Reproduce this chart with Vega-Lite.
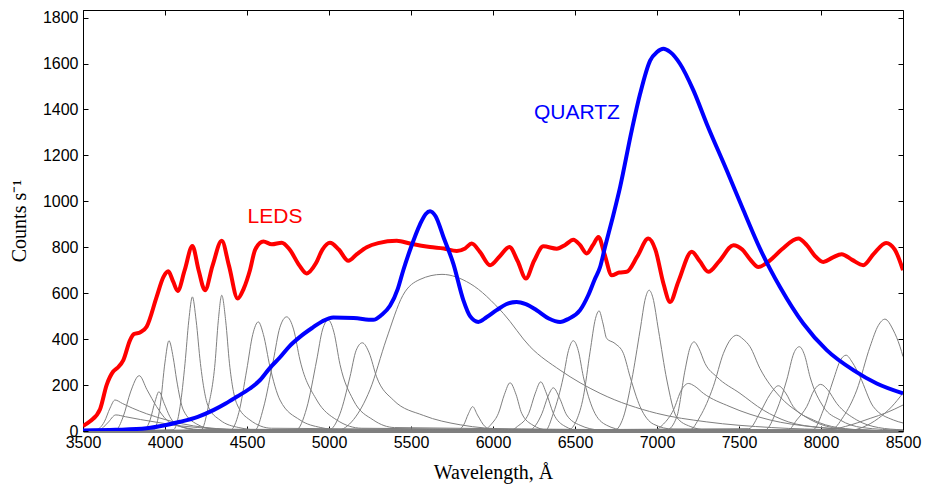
{
  "$schema": "https://vega.github.io/schema/vega-lite/v6.json",
  "width": 820,
  "height": 421,
  "autosize": {"type": "none"},
  "padding": {"left": 83, "top": 10, "right": 23, "bottom": 56},
  "background": "white",
  "config": {
    "view": {"stroke": "black", "strokeWidth": 1},
    "axis": {"grid": false, "labelFlush": false, "labelFont": "Liberation Sans", "labelFontSize": 16, "labelColor": "black", "titleFont": "Liberation Serif", "titleFontSize": 20, "titleFontWeight": "normal", "titleColor": "black", "domainColor": "black", "tickColor": "black", "tickSize": -5}
  },
  "datasets": {
    "leds": [
      {"led": 1, "wl": 3500, "c": 0}, {"led": 1, "wl": 3580, "c": 5}, {"led": 1, "wl": 3630, "c": 40}, {"led": 1, "wl": 3665, "c": 100}, {"led": 1, "wl": 3695, "c": 135}, {"led": 1, "wl": 3740, "c": 120}, {"led": 1, "wl": 3800, "c": 100}, {"led": 1, "wl": 3888, "c": 75}, {"led": 1, "wl": 4000, "c": 50}, {"led": 1, "wl": 4100, "c": 32}, {"led": 1, "wl": 4250, "c": 15}, {"led": 1, "wl": 4500, "c": 5}, {"led": 1, "wl": 8500, "c": 0},
      {"led": 2, "wl": 3500, "c": 0}, {"led": 2, "wl": 3600, "c": 5}, {"led": 2, "wl": 3650, "c": 35}, {"led": 2, "wl": 3700, "c": 70}, {"led": 2, "wl": 3760, "c": 62}, {"led": 2, "wl": 3850, "c": 50}, {"led": 2, "wl": 3950, "c": 38}, {"led": 2, "wl": 4100, "c": 22}, {"led": 2, "wl": 4300, "c": 10}, {"led": 2, "wl": 4600, "c": 3}, {"led": 2, "wl": 8500, "c": 0},
      {"led": 3, "wl": 3500, "c": 0}, {"led": 3, "wl": 3700, "c": 5}, {"led": 3, "wl": 3745, "c": 62}, {"led": 3, "wl": 3790, "c": 170}, {"led": 3, "wl": 3843, "c": 241}, {"led": 3, "wl": 3890, "c": 180}, {"led": 3, "wl": 3949, "c": 106}, {"led": 3, "wl": 4010, "c": 48}, {"led": 3, "wl": 4100, "c": 18}, {"led": 3, "wl": 4250, "c": 5}, {"led": 3, "wl": 8500, "c": 0},
      {"led": 4, "wl": 3500, "c": 0}, {"led": 4, "wl": 3870, "c": 3}, {"led": 4, "wl": 3909, "c": 48}, {"led": 4, "wl": 3940, "c": 130}, {"led": 4, "wl": 3963, "c": 171}, {"led": 4, "wl": 3995, "c": 120}, {"led": 4, "wl": 4030, "c": 62}, {"led": 4, "wl": 4092, "c": 20}, {"led": 4, "wl": 4200, "c": 5}, {"led": 4, "wl": 8500, "c": 0},
      {"led": 5, "wl": 3500, "c": 0}, {"led": 5, "wl": 3930, "c": 5}, {"led": 5, "wl": 3970, "c": 106}, {"led": 5, "wl": 4000, "c": 300}, {"led": 5, "wl": 4024, "c": 393}, {"led": 5, "wl": 4050, "c": 320}, {"led": 5, "wl": 4071, "c": 222}, {"led": 5, "wl": 4112, "c": 91}, {"led": 5, "wl": 4194, "c": 30}, {"led": 5, "wl": 4300, "c": 8}, {"led": 5, "wl": 8500, "c": 0},
      {"led": 6, "wl": 3500, "c": 0}, {"led": 6, "wl": 4050, "c": 5}, {"led": 6, "wl": 4092, "c": 106}, {"led": 6, "wl": 4122, "c": 294}, {"led": 6, "wl": 4145, "c": 480}, {"led": 6, "wl": 4167, "c": 584}, {"led": 6, "wl": 4190, "c": 480}, {"led": 6, "wl": 4216, "c": 294}, {"led": 6, "wl": 4264, "c": 106}, {"led": 6, "wl": 4335, "c": 48}, {"led": 6, "wl": 4450, "c": 15}, {"led": 6, "wl": 4600, "c": 3}, {"led": 6, "wl": 8500, "c": 0},
      {"led": 7, "wl": 3500, "c": 0}, {"led": 7, "wl": 4220, "c": 5}, {"led": 7, "wl": 4264, "c": 106}, {"led": 7, "wl": 4305, "c": 295}, {"led": 7, "wl": 4325, "c": 480}, {"led": 7, "wl": 4346, "c": 591}, {"led": 7, "wl": 4370, "c": 480}, {"led": 7, "wl": 4393, "c": 295}, {"led": 7, "wl": 4437, "c": 120}, {"led": 7, "wl": 4518, "c": 48}, {"led": 7, "wl": 4650, "c": 12}, {"led": 7, "wl": 8500, "c": 0},
      {"led": 8, "wl": 3500, "c": 0}, {"led": 8, "wl": 4400, "c": 5}, {"led": 8, "wl": 4450, "c": 80}, {"led": 8, "wl": 4498, "c": 265}, {"led": 8, "wl": 4535, "c": 420}, {"led": 8, "wl": 4569, "c": 475}, {"led": 8, "wl": 4600, "c": 420}, {"led": 8, "wl": 4640, "c": 280}, {"led": 8, "wl": 4701, "c": 135}, {"led": 8, "wl": 4823, "c": 48}, {"led": 8, "wl": 4950, "c": 15}, {"led": 8, "wl": 5100, "c": 3}, {"led": 8, "wl": 8500, "c": 0},
      {"led": 9, "wl": 3500, "c": 0}, {"led": 9, "wl": 4550, "c": 5}, {"led": 9, "wl": 4600, "c": 100}, {"led": 9, "wl": 4661, "c": 309}, {"led": 9, "wl": 4700, "c": 450}, {"led": 9, "wl": 4742, "c": 497}, {"led": 9, "wl": 4785, "c": 440}, {"led": 9, "wl": 4823, "c": 309}, {"led": 9, "wl": 4925, "c": 135}, {"led": 9, "wl": 5047, "c": 48}, {"led": 9, "wl": 5200, "c": 12}, {"led": 9, "wl": 8500, "c": 0},
      {"led": 10, "wl": 3500, "c": 0}, {"led": 10, "wl": 4800, "c": 5}, {"led": 10, "wl": 4864, "c": 100}, {"led": 10, "wl": 4925, "c": 309}, {"led": 10, "wl": 4960, "c": 440}, {"led": 10, "wl": 4996, "c": 483}, {"led": 10, "wl": 5030, "c": 430}, {"led": 10, "wl": 5067, "c": 290}, {"led": 10, "wl": 5148, "c": 135}, {"led": 10, "wl": 5270, "c": 48}, {"led": 10, "wl": 5400, "c": 15}, {"led": 10, "wl": 8500, "c": 0},
      {"led": 11, "wl": 3500, "c": 0}, {"led": 11, "wl": 5000, "c": 5}, {"led": 11, "wl": 5067, "c": 75}, {"led": 11, "wl": 5128, "c": 236}, {"led": 11, "wl": 5165, "c": 350}, {"led": 11, "wl": 5203, "c": 384}, {"led": 11, "wl": 5245, "c": 340}, {"led": 11, "wl": 5290, "c": 236}, {"led": 11, "wl": 5392, "c": 135}, {"led": 11, "wl": 5575, "c": 68}, {"led": 11, "wl": 5800, "c": 27}, {"led": 11, "wl": 6100, "c": 8}, {"led": 11, "wl": 8500, "c": 0},
      {"led": 12, "wl": 3500, "c": 0}, {"led": 12, "wl": 5050, "c": 3}, {"led": 12, "wl": 5150, "c": 50}, {"led": 12, "wl": 5250, "c": 180}, {"led": 12, "wl": 5350, "c": 400}, {"led": 12, "wl": 5450, "c": 590}, {"led": 12, "wl": 5555, "c": 660}, {"led": 12, "wl": 5689, "c": 682}, {"led": 12, "wl": 5860, "c": 642}, {"led": 12, "wl": 6063, "c": 512}, {"led": 12, "wl": 6226, "c": 367}, {"led": 12, "wl": 6409, "c": 265}, {"led": 12, "wl": 6653, "c": 164}, {"led": 12, "wl": 6998, "c": 77}, {"led": 12, "wl": 7300, "c": 40}, {"led": 12, "wl": 7700, "c": 15}, {"led": 12, "wl": 8100, "c": 5}, {"led": 12, "wl": 8500, "c": 0},
      {"led": 13, "wl": 3500, "c": 0}, {"led": 13, "wl": 5780, "c": 3}, {"led": 13, "wl": 5820, "c": 25}, {"led": 13, "wl": 5850, "c": 75}, {"led": 13, "wl": 5876, "c": 106}, {"led": 13, "wl": 5905, "c": 70}, {"led": 13, "wl": 5950, "c": 20}, {"led": 13, "wl": 6000, "c": 3}, {"led": 13, "wl": 8500, "c": 0},
      {"led": 14, "wl": 3500, "c": 0}, {"led": 14, "wl": 5940, "c": 3}, {"led": 14, "wl": 5990, "c": 30}, {"led": 14, "wl": 6033, "c": 77}, {"led": 14, "wl": 6070, "c": 160}, {"led": 14, "wl": 6104, "c": 210}, {"led": 14, "wl": 6140, "c": 160}, {"led": 14, "wl": 6175, "c": 77}, {"led": 14, "wl": 6244, "c": 25}, {"led": 14, "wl": 6330, "c": 5}, {"led": 14, "wl": 8500, "c": 0},
      {"led": 15, "wl": 3500, "c": 0}, {"led": 15, "wl": 6110, "c": 3}, {"led": 15, "wl": 6149, "c": 20}, {"led": 15, "wl": 6218, "c": 77}, {"led": 15, "wl": 6258, "c": 165}, {"led": 15, "wl": 6291, "c": 214}, {"led": 15, "wl": 6325, "c": 165}, {"led": 15, "wl": 6368, "c": 77}, {"led": 15, "wl": 6440, "c": 20}, {"led": 15, "wl": 6520, "c": 3}, {"led": 15, "wl": 8500, "c": 0},
      {"led": 16, "wl": 3500, "c": 0}, {"led": 16, "wl": 6220, "c": 3}, {"led": 16, "wl": 6260, "c": 25}, {"led": 16, "wl": 6299, "c": 77}, {"led": 16, "wl": 6335, "c": 150}, {"led": 16, "wl": 6368, "c": 188}, {"led": 16, "wl": 6405, "c": 145}, {"led": 16, "wl": 6449, "c": 70}, {"led": 16, "wl": 6531, "c": 25}, {"led": 16, "wl": 6650, "c": 5}, {"led": 16, "wl": 8500, "c": 0},
      {"led": 17, "wl": 3500, "c": 0}, {"led": 17, "wl": 6320, "c": 3}, {"led": 17, "wl": 6368, "c": 77}, {"led": 17, "wl": 6429, "c": 236}, {"led": 17, "wl": 6460, "c": 350}, {"led": 17, "wl": 6490, "c": 393}, {"led": 17, "wl": 6520, "c": 350}, {"led": 17, "wl": 6551, "c": 236}, {"led": 17, "wl": 6612, "c": 91}, {"led": 17, "wl": 6693, "c": 25}, {"led": 17, "wl": 6800, "c": 5}, {"led": 17, "wl": 8500, "c": 0},
      {"led": 18, "wl": 3500, "c": 0}, {"led": 18, "wl": 6460, "c": 5}, {"led": 18, "wl": 6510, "c": 48}, {"led": 18, "wl": 6551, "c": 149}, {"led": 18, "wl": 6592, "c": 345}, {"led": 18, "wl": 6625, "c": 490}, {"led": 18, "wl": 6647, "c": 523}, {"led": 18, "wl": 6670, "c": 470}, {"led": 18, "wl": 6693, "c": 403}, {"led": 18, "wl": 6744, "c": 381}, {"led": 18, "wl": 6795, "c": 338}, {"led": 18, "wl": 6836, "c": 236}, {"led": 18, "wl": 6897, "c": 106}, {"led": 18, "wl": 6978, "c": 30}, {"led": 18, "wl": 7100, "c": 8}, {"led": 18, "wl": 8500, "c": 0},
      {"led": 19, "wl": 3500, "c": 0}, {"led": 19, "wl": 6740, "c": 3}, {"led": 19, "wl": 6795, "c": 60}, {"led": 19, "wl": 6846, "c": 222}, {"led": 19, "wl": 6897, "c": 439}, {"led": 19, "wl": 6930, "c": 580}, {"led": 19, "wl": 6952, "c": 613}, {"led": 19, "wl": 6975, "c": 580}, {"led": 19, "wl": 7009, "c": 439}, {"led": 19, "wl": 7060, "c": 222}, {"led": 19, "wl": 7120, "c": 60}, {"led": 19, "wl": 7202, "c": 20}, {"led": 19, "wl": 7300, "c": 5}, {"led": 19, "wl": 8500, "c": 0},
      {"led": 20, "wl": 3500, "c": 0}, {"led": 20, "wl": 6980, "c": 3}, {"led": 20, "wl": 7039, "c": 30}, {"led": 20, "wl": 7100, "c": 91}, {"led": 20, "wl": 7150, "c": 180}, {"led": 20, "wl": 7191, "c": 207}, {"led": 20, "wl": 7230, "c": 195}, {"led": 20, "wl": 7283, "c": 164}, {"led": 20, "wl": 7445, "c": 106}, {"led": 20, "wl": 7689, "c": 48}, {"led": 20, "wl": 7950, "c": 18}, {"led": 20, "wl": 8200, "c": 5}, {"led": 20, "wl": 8500, "c": 0},
      {"led": 21, "wl": 3500, "c": 0}, {"led": 21, "wl": 7060, "c": 5}, {"led": 21, "wl": 7120, "c": 60}, {"led": 21, "wl": 7171, "c": 265}, {"led": 21, "wl": 7200, "c": 360}, {"led": 21, "wl": 7226, "c": 388}, {"led": 21, "wl": 7255, "c": 360}, {"led": 21, "wl": 7293, "c": 294}, {"led": 21, "wl": 7364, "c": 236}, {"led": 21, "wl": 7506, "c": 164}, {"led": 21, "wl": 7648, "c": 91}, {"led": 21, "wl": 7800, "c": 40}, {"led": 21, "wl": 8000, "c": 15}, {"led": 21, "wl": 8300, "c": 3}, {"led": 21, "wl": 8500, "c": 0},
      {"led": 22, "wl": 3500, "c": 0}, {"led": 22, "wl": 7200, "c": 5}, {"led": 22, "wl": 7262, "c": 62}, {"led": 22, "wl": 7343, "c": 193}, {"led": 22, "wl": 7405, "c": 338}, {"led": 22, "wl": 7450, "c": 400}, {"led": 22, "wl": 7486, "c": 417}, {"led": 22, "wl": 7525, "c": 400}, {"led": 22, "wl": 7567, "c": 367}, {"led": 22, "wl": 7628, "c": 272}, {"led": 22, "wl": 7750, "c": 149}, {"led": 22, "wl": 7872, "c": 77}, {"led": 22, "wl": 7994, "c": 30}, {"led": 22, "wl": 8150, "c": 8}, {"led": 22, "wl": 8500, "c": 0},
      {"led": 23, "wl": 3500, "c": 0}, {"led": 23, "wl": 7560, "c": 10}, {"led": 23, "wl": 7628, "c": 80}, {"led": 23, "wl": 7690, "c": 160}, {"led": 23, "wl": 7740, "c": 197}, {"led": 23, "wl": 7785, "c": 165}, {"led": 23, "wl": 7831, "c": 106}, {"led": 23, "wl": 7953, "c": 48}, {"led": 23, "wl": 8100, "c": 15}, {"led": 23, "wl": 8300, "c": 3}, {"led": 23, "wl": 8500, "c": 0},
      {"led": 24, "wl": 3500, "c": 0}, {"led": 24, "wl": 7660, "c": 5}, {"led": 24, "wl": 7730, "c": 91}, {"led": 24, "wl": 7791, "c": 222}, {"led": 24, "wl": 7835, "c": 340}, {"led": 24, "wl": 7868, "c": 367}, {"led": 24, "wl": 7900, "c": 330}, {"led": 24, "wl": 7933, "c": 236}, {"led": 24, "wl": 8014, "c": 106}, {"led": 24, "wl": 8116, "c": 48}, {"led": 24, "wl": 8250, "c": 15}, {"led": 24, "wl": 8500, "c": 3},
      {"led": 25, "wl": 3500, "c": 0}, {"led": 25, "wl": 7800, "c": 5}, {"led": 25, "wl": 7852, "c": 48}, {"led": 25, "wl": 7913, "c": 106}, {"led": 25, "wl": 7960, "c": 180}, {"led": 25, "wl": 7998, "c": 203}, {"led": 25, "wl": 8040, "c": 180}, {"led": 25, "wl": 8096, "c": 120}, {"led": 25, "wl": 8218, "c": 48}, {"led": 25, "wl": 8350, "c": 15}, {"led": 25, "wl": 8500, "c": 5},
      {"led": 26, "wl": 3500, "c": 0}, {"led": 26, "wl": 7950, "c": 5}, {"led": 26, "wl": 8014, "c": 91}, {"led": 26, "wl": 8075, "c": 222}, {"led": 26, "wl": 8120, "c": 310}, {"led": 26, "wl": 8153, "c": 330}, {"led": 26, "wl": 8190, "c": 300}, {"led": 26, "wl": 8238, "c": 236}, {"led": 26, "wl": 8319, "c": 106}, {"led": 26, "wl": 8441, "c": 48}, {"led": 26, "wl": 8500, "c": 35},
      {"led": 27, "wl": 3500, "c": 0}, {"led": 27, "wl": 8060, "c": 5}, {"led": 27, "wl": 8136, "c": 62}, {"led": 27, "wl": 8218, "c": 178}, {"led": 27, "wl": 8299, "c": 367}, {"led": 27, "wl": 8350, "c": 460}, {"led": 27, "wl": 8390, "c": 487}, {"led": 27, "wl": 8440, "c": 440}, {"led": 27, "wl": 8482, "c": 367}, {"led": 27, "wl": 8500, "c": 324},
      {"led": 28, "wl": 3500, "c": 0}, {"led": 28, "wl": 8150, "c": 0}, {"led": 28, "wl": 8250, "c": 15}, {"led": 28, "wl": 8350, "c": 55}, {"led": 28, "wl": 8430, "c": 105}, {"led": 28, "wl": 8500, "c": 165},
      {"led": 29, "wl": 3500, "c": 0}, {"led": 29, "wl": 8000, "c": 0}, {"led": 29, "wl": 8150, "c": 20}, {"led": 29, "wl": 8300, "c": 55}, {"led": 29, "wl": 8400, "c": 80}, {"led": 29, "wl": 8500, "c": 113}
    ],
    "totals": [
      {"s": "LEDS", "wl": 3500, "c": 22}, {"s": "LEDS", "wl": 3543, "c": 42}, {"s": "LEDS", "wl": 3604, "c": 95}, {"s": "LEDS", "wl": 3644, "c": 200}, {"s": "LEDS", "wl": 3683, "c": 258}, {"s": "LEDS", "wl": 3710, "c": 275}, {"s": "LEDS", "wl": 3746, "c": 309}, {"s": "LEDS", "wl": 3787, "c": 396}, {"s": "LEDS", "wl": 3811, "c": 422}, {"s": "LEDS", "wl": 3850, "c": 430}, {"s": "LEDS", "wl": 3888, "c": 454}, {"s": "LEDS", "wl": 3949, "c": 584}, {"s": "LEDS", "wl": 3990, "c": 670}, {"s": "LEDS", "wl": 4020, "c": 695}, {"s": "LEDS", "wl": 4050, "c": 650}, {"s": "LEDS", "wl": 4077, "c": 610}, {"s": "LEDS", "wl": 4120, "c": 700}, {"s": "LEDS", "wl": 4167, "c": 806}, {"s": "LEDS", "wl": 4205, "c": 700}, {"s": "LEDS", "wl": 4244, "c": 613}, {"s": "LEDS", "wl": 4290, "c": 720}, {"s": "LEDS", "wl": 4346, "c": 828}, {"s": "LEDS", "wl": 4390, "c": 720}, {"s": "LEDS", "wl": 4443, "c": 577}, {"s": "LEDS", "wl": 4480, "c": 620}, {"s": "LEDS", "wl": 4518, "c": 700}, {"s": "LEDS", "wl": 4550, "c": 790}, {"s": "LEDS", "wl": 4600, "c": 825}, {"s": "LEDS", "wl": 4651, "c": 813}, {"s": "LEDS", "wl": 4712, "c": 820}, {"s": "LEDS", "wl": 4760, "c": 790}, {"s": "LEDS", "wl": 4820, "c": 720}, {"s": "LEDS", "wl": 4864, "c": 686}, {"s": "LEDS", "wl": 4920, "c": 730}, {"s": "LEDS", "wl": 4960, "c": 790}, {"s": "LEDS", "wl": 5006, "c": 820}, {"s": "LEDS", "wl": 5060, "c": 790}, {"s": "LEDS", "wl": 5118, "c": 741}, {"s": "LEDS", "wl": 5170, "c": 770}, {"s": "LEDS", "wl": 5230, "c": 800}, {"s": "LEDS", "wl": 5300, "c": 818}, {"s": "LEDS", "wl": 5413, "c": 828}, {"s": "LEDS", "wl": 5500, "c": 815}, {"s": "LEDS", "wl": 5555, "c": 808}, {"s": "LEDS", "wl": 5616, "c": 801}, {"s": "LEDS", "wl": 5700, "c": 795}, {"s": "LEDS", "wl": 5779, "c": 784}, {"s": "LEDS", "wl": 5830, "c": 795}, {"s": "LEDS", "wl": 5870, "c": 816}, {"s": "LEDS", "wl": 5920, "c": 780}, {"s": "LEDS", "wl": 5982, "c": 722}, {"s": "LEDS", "wl": 6040, "c": 760}, {"s": "LEDS", "wl": 6100, "c": 801}, {"s": "LEDS", "wl": 6150, "c": 740}, {"s": "LEDS", "wl": 6201, "c": 664}, {"s": "LEDS", "wl": 6250, "c": 740}, {"s": "LEDS", "wl": 6307, "c": 804}, {"s": "LEDS", "wl": 6389, "c": 794}, {"s": "LEDS", "wl": 6440, "c": 810}, {"s": "LEDS", "wl": 6490, "c": 833}, {"s": "LEDS", "wl": 6530, "c": 810}, {"s": "LEDS", "wl": 6571, "c": 773}, {"s": "LEDS", "wl": 6610, "c": 810}, {"s": "LEDS", "wl": 6643, "c": 845}, {"s": "LEDS", "wl": 6680, "c": 770}, {"s": "LEDS", "wl": 6724, "c": 678}, {"s": "LEDS", "wl": 6770, "c": 690}, {"s": "LEDS", "wl": 6815, "c": 693}, {"s": "LEDS", "wl": 6880, "c": 760}, {"s": "LEDS", "wl": 6947, "c": 838}, {"s": "LEDS", "wl": 6990, "c": 790}, {"s": "LEDS", "wl": 7040, "c": 640}, {"s": "LEDS", "wl": 7080, "c": 562}, {"s": "LEDS", "wl": 7130, "c": 650}, {"s": "LEDS", "wl": 7212, "c": 780}, {"s": "LEDS", "wl": 7260, "c": 740}, {"s": "LEDS", "wl": 7313, "c": 693}, {"s": "LEDS", "wl": 7380, "c": 740}, {"s": "LEDS", "wl": 7466, "c": 809}, {"s": "LEDS", "wl": 7520, "c": 790}, {"s": "LEDS", "wl": 7570, "c": 745}, {"s": "LEDS", "wl": 7618, "c": 714}, {"s": "LEDS", "wl": 7689, "c": 743}, {"s": "LEDS", "wl": 7760, "c": 790}, {"s": "LEDS", "wl": 7862, "c": 838}, {"s": "LEDS", "wl": 7913, "c": 809}, {"s": "LEDS", "wl": 7960, "c": 765}, {"s": "LEDS", "wl": 8014, "c": 736}, {"s": "LEDS", "wl": 8070, "c": 755}, {"s": "LEDS", "wl": 8126, "c": 770}, {"s": "LEDS", "wl": 8190, "c": 745}, {"s": "LEDS", "wl": 8258, "c": 722}, {"s": "LEDS", "wl": 8320, "c": 770}, {"s": "LEDS", "wl": 8397, "c": 819}, {"s": "LEDS", "wl": 8450, "c": 790}, {"s": "LEDS", "wl": 8500, "c": 700},
      {"s": "QUARTZ", "wl": 3500, "c": 2}, {"s": "QUARTZ", "wl": 3700, "c": 5}, {"s": "QUARTZ", "wl": 3888, "c": 12}, {"s": "QUARTZ", "wl": 4000, "c": 25}, {"s": "QUARTZ", "wl": 4092, "c": 40}, {"s": "QUARTZ", "wl": 4200, "c": 62}, {"s": "QUARTZ", "wl": 4295, "c": 91}, {"s": "QUARTZ", "wl": 4370, "c": 120}, {"s": "QUARTZ", "wl": 4437, "c": 149}, {"s": "QUARTZ", "wl": 4518, "c": 185}, {"s": "QUARTZ", "wl": 4580, "c": 222}, {"s": "QUARTZ", "wl": 4640, "c": 275}, {"s": "QUARTZ", "wl": 4700, "c": 320}, {"s": "QUARTZ", "wl": 4760, "c": 370}, {"s": "QUARTZ", "wl": 4823, "c": 410}, {"s": "QUARTZ", "wl": 4900, "c": 450}, {"s": "QUARTZ", "wl": 4960, "c": 478}, {"s": "QUARTZ", "wl": 5026, "c": 494}, {"s": "QUARTZ", "wl": 5150, "c": 492}, {"s": "QUARTZ", "wl": 5270, "c": 484}, {"s": "QUARTZ", "wl": 5320, "c": 505}, {"s": "QUARTZ", "wl": 5372, "c": 545}, {"s": "QUARTZ", "wl": 5420, "c": 620}, {"s": "QUARTZ", "wl": 5453, "c": 700}, {"s": "QUARTZ", "wl": 5500, "c": 800}, {"s": "QUARTZ", "wl": 5555, "c": 900}, {"s": "QUARTZ", "wl": 5590, "c": 945}, {"s": "QUARTZ", "wl": 5616, "c": 957}, {"s": "QUARTZ", "wl": 5650, "c": 935}, {"s": "QUARTZ", "wl": 5700, "c": 840}, {"s": "QUARTZ", "wl": 5758, "c": 729}, {"s": "QUARTZ", "wl": 5819, "c": 570}, {"s": "QUARTZ", "wl": 5860, "c": 500}, {"s": "QUARTZ", "wl": 5911, "c": 475}, {"s": "QUARTZ", "wl": 5960, "c": 495}, {"s": "QUARTZ", "wl": 6022, "c": 526}, {"s": "QUARTZ", "wl": 6080, "c": 552}, {"s": "QUARTZ", "wl": 6144, "c": 562}, {"s": "QUARTZ", "wl": 6200, "c": 552}, {"s": "QUARTZ", "wl": 6266, "c": 526}, {"s": "QUARTZ", "wl": 6340, "c": 490}, {"s": "QUARTZ", "wl": 6409, "c": 475}, {"s": "QUARTZ", "wl": 6460, "c": 488}, {"s": "QUARTZ", "wl": 6531, "c": 526}, {"s": "QUARTZ", "wl": 6580, "c": 590}, {"s": "QUARTZ", "wl": 6620, "c": 660}, {"s": "QUARTZ", "wl": 6653, "c": 714}, {"s": "QUARTZ", "wl": 6683, "c": 801}, {"s": "QUARTZ", "wl": 6730, "c": 930}, {"s": "QUARTZ", "wl": 6775, "c": 1062}, {"s": "QUARTZ", "wl": 6846, "c": 1309}, {"s": "QUARTZ", "wl": 6897, "c": 1468}, {"s": "QUARTZ", "wl": 6958, "c": 1613}, {"s": "QUARTZ", "wl": 7000, "c": 1650}, {"s": "QUARTZ", "wl": 7039, "c": 1664}, {"s": "QUARTZ", "wl": 7080, "c": 1650}, {"s": "QUARTZ", "wl": 7140, "c": 1599}, {"s": "QUARTZ", "wl": 7222, "c": 1483}, {"s": "QUARTZ", "wl": 7303, "c": 1338}, {"s": "QUARTZ", "wl": 7425, "c": 1135}, {"s": "QUARTZ", "wl": 7527, "c": 961}, {"s": "QUARTZ", "wl": 7628, "c": 794}, {"s": "QUARTZ", "wl": 7690, "c": 705}, {"s": "QUARTZ", "wl": 7750, "c": 627}, {"s": "QUARTZ", "wl": 7892, "c": 468}, {"s": "QUARTZ", "wl": 8035, "c": 352}, {"s": "QUARTZ", "wl": 8197, "c": 265}, {"s": "QUARTZ", "wl": 8340, "c": 207}, {"s": "QUARTZ", "wl": 8500, "c": 164}
    ],
    "labels": [
      {"s": "LEDS", "wl": 4671, "c": 904},
      {"s": "QUARTZ", "wl": 6512, "c": 1357}
    ]
  },
  "resolve": {"axis": {"x": "independent", "y": "independent"}},
  "layer": [
    {
      "data": {"name": "leds"},
      "mark": {"type": "line", "interpolate": "monotone", "color": "#7f7f7f", "strokeWidth": 1, "clip": true},
      "encoding": {
        "x": {"field": "wl", "type": "quantitative", "scale": {"domain": [3500, 8500], "nice": false, "zero": false}, "axis": {"orient": "bottom", "values": [3500, 4000, 4500, 5000, 5500, 6000, 6500, 7000, 7500, 8000, 8500], "title": "Wavelength, Å", "labelPadding": 8, "titlePadding": 12, "domainColor": "#7f7f7f", "domainWidth": 3, "format": "d"}},
        "y": {"field": "c", "type": "quantitative", "scale": {"domain": [0, 1833], "nice": false}, "axis": {"orient": "left", "values": [0, 200, 400, 600, 800, 1000, 1200, 1400, 1600, 1800], "title": "Counts s⁻¹", "labelPadding": 10, "titlePadding": 13, "format": "d"}},
        "detail": {"field": "led", "type": "nominal"}
      }
    },
    {
      "data": {"name": "totals"},
      "mark": {"type": "line", "interpolate": "monotone", "strokeWidth": 4, "clip": true},
      "encoding": {
        "x": {"field": "wl", "type": "quantitative", "axis": {"orient": "top", "values": [3500, 4000, 4500, 5000, 5500, 6000, 6500, 7000, 7500, 8000, 8500], "labels": false, "title": null, "domain": false}},
        "y": {"field": "c", "type": "quantitative", "axis": {"orient": "right", "values": [0, 200, 400, 600, 800, 1000, 1200, 1400, 1600, 1800], "labels": false, "title": null, "domain": false}},
        "color": {"field": "s", "type": "nominal", "scale": {"domain": ["LEDS", "QUARTZ"], "range": ["#ff0000", "#0000ff"]}, "legend": null}
      }
    },
    {
      "data": {"name": "labels"},
      "mark": {"type": "text", "font": "Liberation Sans", "fontSize": 21, "align": "center", "baseline": "alphabetic"},
      "encoding": {
        "x": {"field": "wl", "type": "quantitative", "axis": null},
        "y": {"field": "c", "type": "quantitative", "axis": null},
        "text": {"field": "s", "type": "nominal"},
        "color": {"field": "s", "type": "nominal", "scale": {"domain": ["LEDS", "QUARTZ"], "range": ["#ff0000", "#0000ff"]}, "legend": null}
      }
    }
  ]
}
